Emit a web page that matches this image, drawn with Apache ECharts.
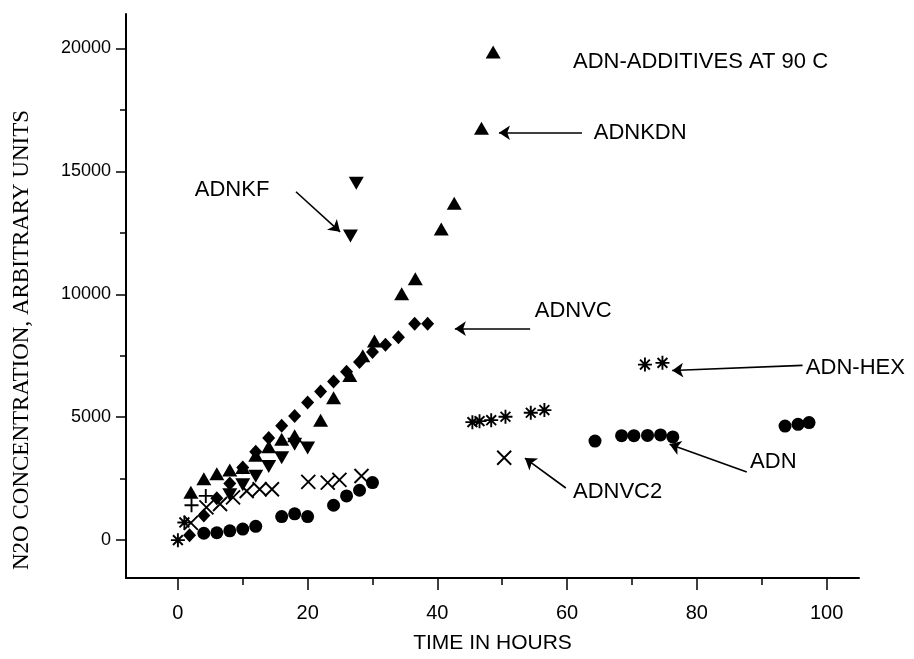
<!DOCTYPE html>
<html>
<head>
<meta charset="utf-8">
<title>ADN additives at 90 C</title>
<script src="https://cdn.jsdelivr.net/npm/echarts@6/dist/echarts.min.js"></script>
<style>
  html, body { margin: 0; padding: 0; background: #fff; }
  #chart { width: 914px; height: 659px; }
</style>
</head>
<body>
<div id="chart"></div>
<script>
// [hours, N2O concentration]
const adnPts = [[4, 280], [6, 300], [8, 380], [10, 450], [12, 560], [16, 960], [18, 1070], [20, 960],
  [24, 1420], [26, 1800], [28, 2030], [30, 2340], [64.3, 4030], [68.4, 4250], [70.3, 4250], [72.4, 4260],
  [74.4, 4280], [76.3, 4200], [93.6, 4640], [95.6, 4710], [97.3, 4780]]
const adnHexPts = [[0, 0], [1, 720], [45.4, 4800], [46.5, 4840], [48.3, 4880], [50.5, 5020], [54.4, 5180],
  [56.5, 5290], [72, 7140], [74.7, 7210]]
const adnkfPts = [[8, 1850], [10, 2250], [12, 2600], [14, 3000], [16, 3350], [18, 3900], [20, 3750],
  [26.6, 12370], [27.5, 14520]]
const adnkdnPts = [[2, 1950], [4, 2500], [6, 2700], [8, 2850], [10, 2950], [12, 3450], [14, 3800], [16, 4100],
  [18, 4250], [22, 4880], [24, 5790], [26.5, 6700], [28.5, 7500], [30.3, 8100], [34.5, 10020], [36.6, 10630],
  [40.6, 12660], [42.6, 13700], [46.8, 16750], [48.6, 19850]]
const adnvcPts = [[1.8, 200], [4, 1000], [6, 1700], [8, 2300], [10, 2950], [12, 3600], [14, 4150], [16, 4650],
  [18, 5050], [20, 5600], [22, 6050], [24, 6450], [26, 6850], [28, 7250], [30, 7650], [32, 7950], [34, 8250],
  [36.5, 8800], [38.5, 8800]]
const adnvc2Pts = [[2, 700], [4.4, 1330], [6.5, 1470], [8.5, 1740], [10.6, 2000], [12.6, 2070], [14.5, 2070],
  [20.1, 2370], [23.1, 2340], [24.9, 2450], [28.3, 2610], [50.3, 3350]]
const plusPts = [[2.1, 1420], [4.3, 1800]]

const xTicks = [0, 20, 40, 60, 80, 100]
const xMinorTicks = [10, 30, 50, 70, 90]
const yTicks = [0, 5000, 10000, 15000, 20000]
const yMinorTicks = [2500, 7500, 12500, 17500]

// annotation texts [x, y, text] (left edge, middle) and arrows [from, to]
const notes = [[60.9, 19450, 'ADN-ADDITIVES AT 90 C'], [64.1, 16570, 'ADNKDN'], [2.6, 14250, 'ADNKF'],
  [55.0, 9340, 'ADNVC'], [96.8, 7020, 'ADN-HEX'], [88.2, 3170, 'ADN'], [60.9, 1950, 'ADNVC2']]
const arrows = [
  [[62.3, 16570], [49.5, 16570]],
  [[18.2, 14170], [25.0, 12540]],
  [[54.3, 8600], [42.7, 8600]],
  [[96.3, 7110], [76.2, 6900]],
  [[87.7, 2770], [75.8, 3900]],
  [[59.8, 2120], [53.5, 3340]]
]

const sans = 'Liberation Sans, Arial, sans-serif'
const narrow = 'Liberation Sans Narrow, Liberation Sans, Arial, sans-serif'

const filled = { color: '#000', opacity: 1 }
const stroked = { color: 'transparent', borderColor: '#000', borderWidth: 1.9, opacity: 1 }

function scatter (name, data, symbol, size, style) {
  return {
    name: name,
    type: 'scatter',
    data: data,
    symbol: symbol,
    symbolSize: size,
    itemStyle: style,
    silent: true,
    z: 3
  }
}

const chart = echarts.init(document.getElementById('chart'), null, { renderer: 'canvas' })

const baseX = {
  type: 'value',
  position: 'bottom',
  min: -8,
  max: 105,
  splitLine: { show: false }
}
const baseY = {
  type: 'value',
  position: 'left',
  min: -1540,
  max: 21400,
  splitLine: { show: false }
}

const option = {
  animation: false,
  backgroundColor: '#fff',
  grid: { left: 126, right: 55, top: 14, bottom: 80 },
  xAxis: [
    Object.assign({}, baseX, {
      name: 'TIME IN HOURS',
      nameLocation: 'middle',
      nameGap: 55,
      nameTextStyle: { color: '#000', fontFamily: narrow, fontSize: 21 },
      axisLine: { onZero: false, lineStyle: { color: '#000', width: 2 } },
      axisTick: { show: true, inside: false, length: 12, customValues: xTicks, lineStyle: { color: '#000', width: 1.5 } },
      axisLabel: { customValues: xTicks, margin: 25, color: '#000', fontFamily: narrow, fontSize: 20 }
    }),
    Object.assign({}, baseX, {
      axisLine: { show: false, onZero: false },
      axisTick: { show: true, inside: false, length: 7, customValues: xMinorTicks, lineStyle: { color: '#000', width: 1.5 } },
      axisLabel: { show: false }
    })
  ],
  yAxis: [
    Object.assign({}, baseY, {
      axisLine: { onZero: false, lineStyle: { color: '#000', width: 2 } },
      axisTick: { show: true, inside: false, length: 10, customValues: yTicks, lineStyle: { color: '#000', width: 1.5 } },
      axisLabel: { customValues: yTicks, formatter: v => String(v), margin: 15, color: '#000', fontFamily: sans, fontSize: 18 }
    }),
    Object.assign({}, baseY, {
      axisLine: { show: false, onZero: false },
      axisTick: { show: true, inside: false, length: 6, customValues: yMinorTicks, lineStyle: { color: '#000', width: 1.5 } },
      axisLabel: { show: false }
    })
  ],
  graphic: [{
    type: 'text',
    x: 22,
    y: 340,
    rotation: Math.PI / 2,
    style: {
      text: 'N2O CONCENTRATION, ARBITRARY UNITS',
      fill: '#000',
      font: '23px "Liberation Serif", "Times New Roman", serif',
      textAlign: 'center',
      textVerticalAlign: 'middle'
    }
  }],
  series: [
    scatter('ADN', adnPts, 'circle', 13, filled),
    scatter('ADN-HEX', adnHexPts, 'path://M5,0L5,10M0,5L10,5M1.5,1.5L8.5,8.5M1.5,8.5L8.5,1.5', 14, stroked),
    scatter('ADNKF', adnkfPts, 'path://M0,0L10,0L5,9Z', [15, 13], filled),
    scatter('ADNKDN', adnkdnPts, 'triangle', [15, 13], filled),
    scatter('ADNVC', adnvcPts, 'diamond', [13, 14], filled),
    scatter('ADNVC2', adnvc2Pts, 'path://M0,0L10,10M0,10L10,0', 14, stroked),
    scatter('plus', plusPts, 'path://M5,0L5,10M0,5L10,5', 14, stroked),
    {
      name: 'notes',
      type: 'scatter',
      data: notes,
      symbol: 'circle',
      symbolSize: 0.1,
      itemStyle: { color: 'transparent', opacity: 1 },
      silent: true,
      label: {
        show: true,
        position: 'right',
        distance: 0,
        formatter: p => p.data[2],
        color: '#000',
        opacity: 1,
        fontFamily: sans,
        fontSize: 22
      }
    },
    {
      name: 'arrows',
      type: 'scatter',
      data: [],
      silent: true,
      itemStyle: { color: '#000' },
      markLine: {
        silent: true,
        symbol: ['none', 'arrow'],
        symbolSize: 11,
        label: { show: false },
        itemStyle: { color: '#000' },
        lineStyle: { color: '#000', width: 1.6, type: 'solid', opacity: 1 },
        data: arrows.map(a => [{ coord: a[0] }, { coord: a[1] }])
      }
    }
  ]
}

chart.setOption(option)
window.addEventListener('resize', () => chart.resize())
</script>
</body>
</html>
